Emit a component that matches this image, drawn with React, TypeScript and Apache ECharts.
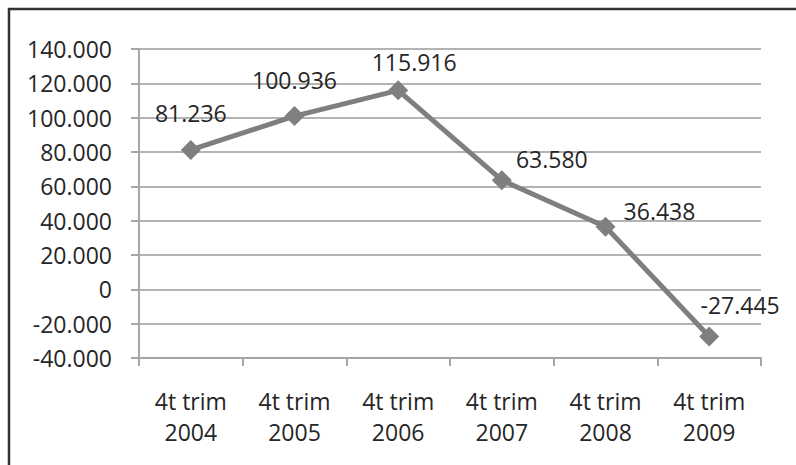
import React, { useEffect, useRef } from "react";
import * as echarts from "echarts";

const categories = ["4t trim\n2004", "4t trim\n2005", "4t trim\n2006", "4t trim\n2007", "4t trim\n2008", "4t trim\n2009"];
const values = [81236, 100936, 115916, 63580, 36438, -27445];
const labelOffsets: [number, number][] = [[0, -37], [0, -36], [16, -28], [50, -21], [54, -16], [31, -31]];

const fmt = (v: number) => {
  const s = Math.abs(Math.round(v)).toString().replace(/\B(?=(\d{3})+(?!\d))/g, ".");
  return (v < 0 ? "-" : "") + s;
};

const FONT = "Open Sans";
const TEXT = "#262626";
const FS = 23;

export default function App() {
  const ref = useRef<HTMLDivElement>(null);
  useEffect(() => {
    const chart = echarts.init(ref.current!, undefined, { renderer: "svg" });
    chart.setOption({
      animation: false,
      backgroundColor: "#ffffff",
      textStyle: { fontFamily: FONT },
      graphic: [
        {
          type: "rect",
          shape: { x: 9, y: 9, width: 820, height: 500 },
          style: { fill: "none", stroke: "#333333", lineWidth: 2.5 },
          silent: true,
        },
      ],
      grid: { left: 139, right: 35, top: 49, bottom: 107 },
      xAxis: {
        type: "category",
        data: categories,
        boundaryGap: true,
        axisLine: { onZero: false, lineStyle: { color: "#a6a6a6", width: 2 } },
        axisTick: { show: true, length: 8, lineStyle: { color: "#a6a6a6", width: 2 } },
        axisLabel: { color: TEXT, fontSize: FS, fontFamily: FONT, lineHeight: 31, margin: 27 },
        splitLine: { show: false },
      },
      yAxis: {
        type: "value",
        min: -40000,
        max: 140000,
        interval: 20000,
        axisLine: { show: true, lineStyle: { color: "#a6a6a6", width: 2 } },
        axisTick: { show: true, length: 8, lineStyle: { color: "#a6a6a6", width: 2 } },
        axisLabel: { color: TEXT, fontSize: FS, fontFamily: FONT, margin: 27, formatter: (v: number) => fmt(v) },
        splitLine: { show: true, lineStyle: { color: "#b3b3b3", width: 2 } },
      },
      series: [
        {
          type: "line",
          data: values.map((v, i) => ({
            value: v,
            label: { offset: labelOffsets[i] },
          })),
          symbol: "diamond",
          symbolSize: 20,
          lineStyle: { color: "#7f7f7f", width: 5 },
          itemStyle: { color: "#7f7f7f" },
          label: {
            show: true,
            position: "inside",
            color: TEXT,
            fontSize: FS,
            fontFamily: FONT,
            formatter: (p: any) => fmt(p.value),
          },
        },
      ],
    });
    return () => chart.dispose();
  }, []);
  return <div ref={ref} style={{ position: "fixed", left: 0, top: 0, width: 796, height: 465 }} />;
}
